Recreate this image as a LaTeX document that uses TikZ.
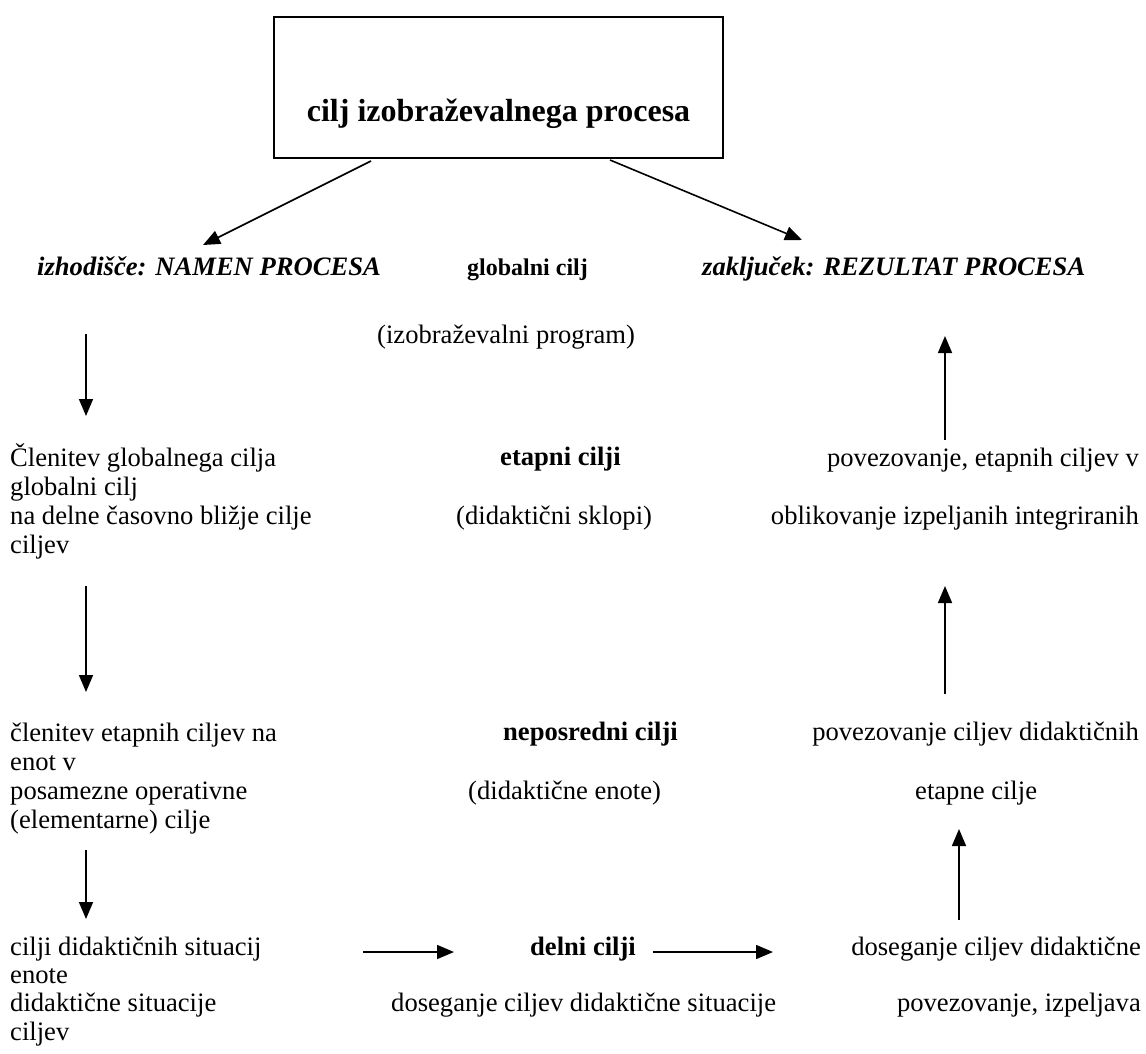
\documentclass[tikz,border=0pt]{standalone}
\usepackage{fontspec}
\setmainfont{Liberation Serif}
\usetikzlibrary{arrows.meta}
\begin{document}
\begin{tikzpicture}[x=1pt,y=-1pt,
  txt/.style={inner sep=0pt,anchor=base west,font=\fontsize{26.6}{29}\selectfont},
  txtr/.style={txt,anchor=base east},
  bfx/.style={txt,font=\fontsize{26.6}{29}\selectfont\bfseries},
  bfit/.style={txt,font=\fontsize{26.6}{29}\selectfont\bfseries\itshape},
  small/.style={txt,font=\fontsize{24}{27}\selectfont\bfseries},
  arr/.style={line width=1.6pt,-{Triangle[length=17pt,width=14pt]}},
  boxed/.style={draw,line width=1.6pt,minimum width=449pt,minimum height=141pt,inner sep=0pt}
]
\useasboundingbox (0,0) rectangle (1146,1053);

% header box
\node[boxed] (box) at (498.5,87.5) {};
\node[inner sep=0pt,anchor=base,font=\fontsize{32}{36}\selectfont\bfseries] (title) at (498.5,121) {cilj izobraževalnega procesa};

% first row
\node[bfit] (start) at (37,275) {izhodišče: NAMEN PROCESA};
\node[small] (glob) at (467,275) {globalni cilj};
\node[bfit] (end) at (702,275) {zaključek: REZULTAT PROCESA};
\node[txt] (prog) at (377,343) {(izobraževalni program)};

% second row
\node[txt] (l2a) at (10,466) {Členitev globalnega cilja};
\node[txt] (l2b) at (10,495) {globalni cilj};
\node[txt] (l2c) at (10,524) {na delne časovno bližje cilje};
\node[txt] (l2d) at (10,553) {ciljev};
\node[bfx] (c2a) at (500,465) {etapni cilji};
\node[txt] (c2b) at (456,524) {(didaktični sklopi)};
\node[txtr] (r2a) at (1139,466) {povezovanje, etapnih ciljev v};
\node[txtr] (r2b) at (1139,524) {oblikovanje izpeljanih integriranih};

% third row
\node[txt] (l3a) at (10,741) {členitev etapnih ciljev na};
\node[txt] (l3b) at (10,770) {enot v};
\node[txt] (l3c) at (10,799) {posamezne operativne};
\node[txt] (l3d) at (10,828) {(elementarne) cilje};
\node[bfx] (c3a) at (503,740) {neposredni cilji};
\node[txt] (c3b) at (468,799) {(didaktične enote)};
\node[txtr] (r3a) at (1139,740) {povezovanje ciljev didaktičnih};
\node[txt] (r3b) at (915,799) {etapne cilje};

% fourth row
\node[txt] (l4a) at (10,955) {cilji didaktičnih situacij};
\node[txt] (l4b) at (10,983) {enote};
\node[txt] (l4c) at (10,1011) {didaktične situacije};
\node[txt] (l4d) at (10,1040) {ciljev};
\node[bfx] (c4a) at (530,955) {delni cilji};
\node[txt] (c4b) at (391,1011) {doseganje ciljev didaktične situacije};
\node[txtr] (r4a) at (1141,955) {doseganje ciljev didaktične};
\node[txtr] (r4b) at (1141,1011) {povezovanje, izpeljava};

% arrow end points
\coordinate (dl0) at (371,161);  \coordinate (dl1) at (203,245);
\coordinate (dr0) at (610,160);  \coordinate (dr1) at (802,240);
\coordinate (a1s) at (86,334);   \coordinate (a1e) at (86,416);
\coordinate (a2s) at (86,586);   \coordinate (a2e) at (86,692);
\coordinate (a3s) at (86,850);   \coordinate (a3e) at (86,919);
\coordinate (b1s) at (945,440);  \coordinate (b1e) at (945,336);
\coordinate (b2s) at (945,694);  \coordinate (b2e) at (945,586);
\coordinate (b3s) at (959,920);  \coordinate (b3e) at (959,829);
\coordinate (h1s) at (363,952);  \coordinate (h1e) at (454,952);
\coordinate (h2s) at (653,952);  \coordinate (h2e) at (773,952);

% connectors
\draw[arr] (dl0) -- (dl1);
\draw[arr] (dr0) -- (dr1);
\draw[arr] (a1s) -- (a1e);
\draw[arr] (a2s) -- (a2e);
\draw[arr] (a3s) -- (a3e);
\draw[arr] (b1s) -- (b1e);
\draw[arr] (b2s) -- (b2e);
\draw[arr] (b3s) -- (b3e);
\draw[arr] (h1s) -- (h1e);
\draw[arr] (h2s) -- (h2e);
\end{tikzpicture}
\end{document}
